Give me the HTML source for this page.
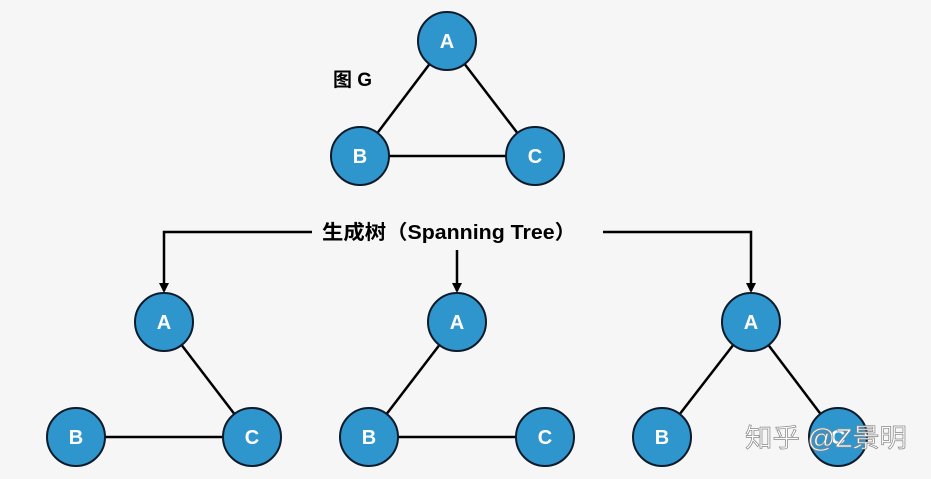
<!DOCTYPE html>
<html><head><meta charset="utf-8"><style>
html,body{margin:0;padding:0;background:#f6f6f6;}
svg{display:block;}
.n{fill:#2f95cd;stroke:#0d1b2a;stroke-width:2;}
.l{font-family:"Liberation Sans",sans-serif;font-weight:bold;font-size:20px;fill:#fff;text-anchor:middle;}
.e{stroke:#000;stroke-width:2.5;fill:none;}
</style></head><body>
<svg width="931" height="479" viewBox="0 0 931 479">
<defs><marker id="ar" markerWidth="10" markerHeight="10" refX="8" refY="5" orient="auto" markerUnits="userSpaceOnUse"><path d="M0,0 L10,5 L0,10 z" fill="#000"/></marker></defs>
<g class="e">
<line x1="447" y1="41" x2="360" y2="156"/><line x1="447" y1="41" x2="535" y2="156"/><line x1="360" y1="156" x2="535" y2="156"/>
<line x1="164" y1="322" x2="252" y2="437"/><line x1="76" y1="437" x2="252" y2="437"/>
<line x1="457" y1="322" x2="369" y2="437"/><line x1="369" y1="437" x2="545" y2="437"/>
<line x1="751" y1="322" x2="662" y2="437"/><line x1="751" y1="322" x2="838" y2="437"/>
<polyline points="312,232 164,232 164,291" marker-end="url(#ar)"/>
<line x1="457" y1="250" x2="457" y2="291" marker-end="url(#ar)"/>
<polyline points="603,232 751,232 751,291" marker-end="url(#ar)"/>
</g>
<g>
<circle class="n" cx="447" cy="41" r="29"/><text class="l" x="447" y="48">A</text>
<circle class="n" cx="360" cy="156" r="29"/><text class="l" x="360" y="163">B</text>
<circle class="n" cx="535" cy="156" r="29"/><text class="l" x="535" y="163">C</text>
<circle class="n" cx="164" cy="322" r="29"/><text class="l" x="164" y="329">A</text>
<circle class="n" cx="76" cy="437" r="29"/><text class="l" x="76" y="444">B</text>
<circle class="n" cx="252" cy="437" r="29"/><text class="l" x="252" y="444">C</text>
<circle class="n" cx="457" cy="322" r="29"/><text class="l" x="457" y="329">A</text>
<circle class="n" cx="369" cy="437" r="29"/><text class="l" x="369" y="444">B</text>
<circle class="n" cx="545" cy="437" r="29"/><text class="l" x="545" y="444">C</text>
<circle class="n" cx="751" cy="322" r="29"/><text class="l" x="751" y="329">A</text>
<circle class="n" cx="662" cy="437" r="29"/><text class="l" x="662" y="444">B</text>
<circle class="n" cx="838" cy="437" r="29"/><text class="l" x="838" y="444">C</text>
</g>
<text x="333" y="86" font-family="'Liberation Sans','Noto Sans CJK SC',sans-serif" font-size="19" font-weight="bold" fill="#000">图 G</text>
<text x="322" y="239" font-family="'Liberation Sans','Noto Sans CJK SC',sans-serif" font-size="20" font-weight="bold" fill="#000" textLength="254" lengthAdjust="spacingAndGlyphs">生成树（Spanning Tree）</text>
<text x="745" y="447" font-family="'Liberation Sans','Noto Sans CJK SC',sans-serif" font-size="26" fill="#fff" stroke="#888" stroke-width="0.7" textLength="162" lengthAdjust="spacingAndGlyphs">知乎 @Z景明</text>
</svg>
</body></html>
